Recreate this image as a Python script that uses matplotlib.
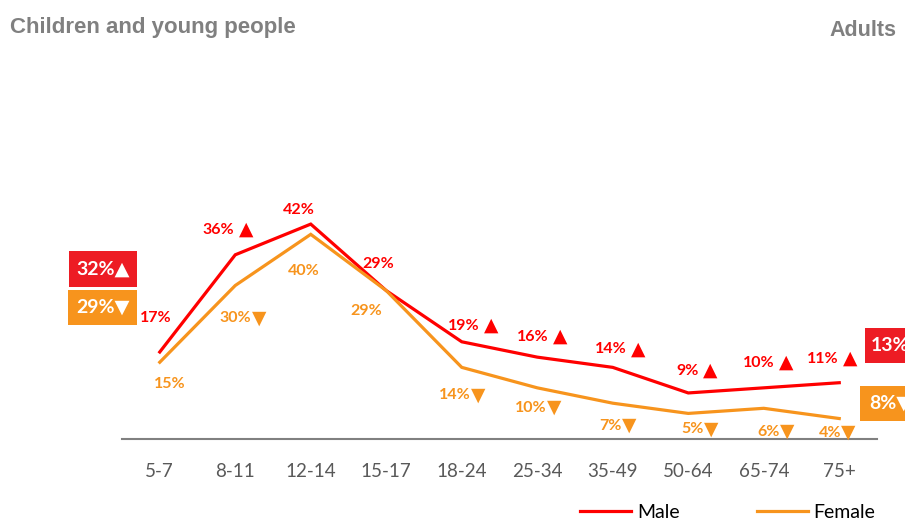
import matplotlib
matplotlib.use("Agg")
import matplotlib.pyplot as plt
from matplotlib.patches import Rectangle

# data
ages = ['5-7', '8-11', '12-14', '15-17', '18-24', '25-34', '35-49', '50-64', '65-74', '75+']
male = [17, 36, 42, 29, 19, 16, 14, 9, 10, 11]
female = [15, 30, 40, 29, 14, 10, 7, 5, 6, 4]
male_sig = ['', '▲', '', '', '▲', '▲', '▲', '▲', '▲', '▲']
female_sig = ['', '▼', '', '', '▼', '▼', '▼', '▼', '▼', '▼']
child_overall = [32, 29]   # male, female
adult_overall = [13, 8]

RED = '#FF0000'
RED_BOX = '#ED1C24'
ORANGE = '#F7941D'
GREY = '#595959'
FONT = ['Lato', 'DejaVu Sans']

W, H = 905, 523
fig = plt.figure(figsize=(W / 100, H / 100), dpi=100)
ax = fig.add_axes([122 / W, (H - 439) / H, 755 / W, 307 / H])

x = list(range(len(ages)))
ax.plot(x, male, color=RED, lw=2.3, label='Male', solid_joinstyle='miter')
ax.plot(x, female, color=ORANGE, lw=2.3, label='Female', solid_joinstyle='miter')
ax.set_xlim(-0.5, len(ages) - 0.5)
ax.set_ylim(0, 60)

for s in ['top', 'right', 'left']:
    ax.spines[s].set_visible(False)
ax.spines['bottom'].set_color('#808080')
ax.spines['bottom'].set_linewidth(1.5)
ax.set_yticks([])
ax.set_xticks(x)
ax.set_xticklabels(ages, fontsize=13.5, color=GREY, family=FONT)
ax.tick_params(axis='x', length=0, pad=17)

# label offsets in pixels (dx, dy up), centre of the whole label
male_off = [(-4, 34), (-8, 25), (-12, 14), (-8, 27), (11, 16), (4, 20), (7, 18), (8, 22), (4, 25), (-8, 24)]
female_off = [(10, -22), (7, -33), (-7, -37), (-20, -20), (0, -28), (0, -20), (4, -23), (11, -16), (11, -24), (-3, -14)]
TRI_W = 13


def put_label(i, val, sig, off, color, gap):
    dx, dy = off
    if sig:
        dx -= (gap + TRI_W) / 2
    t = ax.annotate(f'{val}%', (i, val), xytext=(dx * 0.72, dy * 0.72),
                    textcoords='offset points', ha='center', va='center',
                    color=color, fontsize=11.5, fontweight='bold', family=FONT)
    if sig:
        ax.annotate(sig, xy=(1, 0.55), xycoords=t, xytext=(gap * 0.72, 0),
                    textcoords='offset points', ha='left', va='center',
                    color=color, fontsize=13.5, family='DejaVu Sans')


for i in x:
    put_label(i, male[i], male_sig[i], male_off[i], RED, 4)
    put_label(i, female[i], female_sig[i], female_off[i], ORANGE, 0)


# overall boxes (pixel layout)
def box(x0, y0, w, h, color, txt, ha='center', tx=None):
    fig.add_artist(Rectangle((x0 / W, 1 - (y0 + h) / H), w / W, h / H,
                             transform=fig.transFigure, color=color, lw=0))
    if tx is None:
        tx = x0 + w / 2
    fig.text(tx / W, 1 - (y0 + h / 2) / H, txt, ha=ha, va='center', color='white',
             fontsize=14, fontweight='bold', family=FONT)


box(69, 251, 68, 36, RED_BOX, f'{child_overall[0]}%▲')
box(68, 290, 69, 35, ORANGE, f'{child_overall[1]}%▼')
box(865, 328, 60, 35, RED_BOX, f'{adult_overall[0]}%▲', ha='left', tx=871)
box(860, 386, 60, 35, ORANGE, f'{adult_overall[1]}%▼', ha='left', tx=869)

fig.text(10 / W, 1 - 27 / H, 'Children and young people', ha='left', va='center',
         color='#808080', fontsize=16, fontweight='bold', family='Liberation Sans')
fig.text(896 / W, 1 - 30 / H, 'Adults', ha='right', va='center',
         color='#808080', fontsize=15.5, fontweight='bold', family='Liberation Sans')

leg = fig.legend(loc='center', bbox_to_anchor=(728 / W, 1 - 512 / H), ncol=2,
                 frameon=False, handlelength=2.6, handletextpad=0.3,
                 columnspacing=4.0, prop={'family': FONT, 'size': 14})
for t in leg.get_texts():
    t.set_color('#000000')

fig.savefig('out.png', dpi=100)
